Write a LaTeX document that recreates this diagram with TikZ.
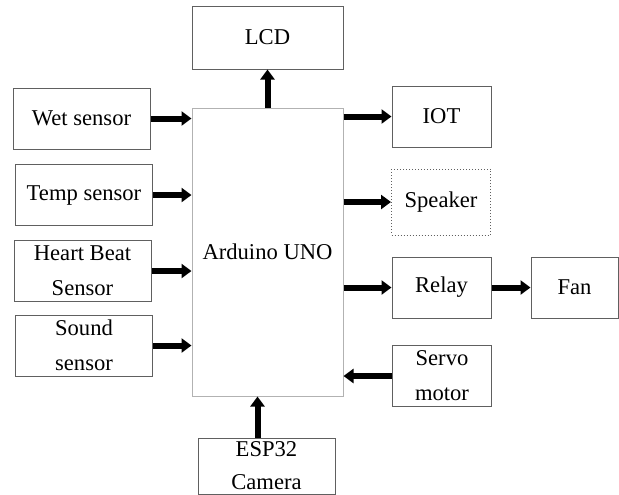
\documentclass[tikz,border=0pt]{standalone}
\usepackage{fontspec}
\setmainfont{Liberation Serif}
\usetikzlibrary{arrows.meta, positioning}

\begin{document}
\begin{tikzpicture}[
    x=0.5pt, y=-0.5pt,
    block/.style={rectangle, draw=gray!75!black, line width=0.5pt, minimum width=49.5pt,
                  minimum height=30.5pt, align=center, inner sep=0pt,
                  font=\fontsize{11.3}{17.5}\selectfont},
    sensor/.style={block, minimum width=68.5pt},
    arrow/.style={-{Triangle[length=5pt, width=7pt]}, line width=3pt, black}
]
    \useasboundingbox (0,0) rectangle (619,494);

    % inputs on the left
    \node[sensor] (wet)   at (81.5,118.5) {Wet sensor};
    \node[sensor] (temp)  at (84,195)     {Temp sensor};
    \node[sensor] (heart) at (82.5,271)   {Heart Beat\\Sensor};
    \node[sensor] (sound) at (84,345.5)   {Sound\\sensor};

    % controller
    \node[block, draw=gray!60, minimum width=75.5pt, minimum height=144pt] (uno) at (267.5,252) {Arduino UNO};
    \node[block, minimum width=75.5pt, minimum height=31.5pt] (lcd) at (267.5,37.5) {LCD};
    \node[sensor, minimum height=28pt, font=\fontsize{11.3}{16.5}\selectfont] (esp) at (266.5,466) {ESP32\\Camera};

    % outputs on the right
    \node[block] (iot)   at (441.5,116.5) {IOT};
    \node[block, densely dotted, minimum height=33pt] (spk) at (441,202) {Speaker};
    \node[block] (relay) at (441.5,287.5) {Relay};
    \node[block, minimum width=43.5pt] (fan) at (574.5,287.5) {Fan};
    \node[block] (servo) at (442,376) {Servo\\motor};

    \draw[arrow] (wet.east)   -- (wet.east -| uno.west);
    \draw[arrow] (temp.east)  -- (temp.east -| uno.west);
    \draw[arrow] (heart.east) -- (heart.east -| uno.west);
    \draw[arrow] (sound.east) -- (sound.east -| uno.west);
    \draw[arrow] (uno.north)  -- (lcd.south);
    \draw[arrow] ([xshift=-4.5pt]esp.north) -- ([xshift=-4.5pt]esp.north |- uno.south);
    \draw[arrow] (iot.west -| uno.east)   -- (iot.west);
    \draw[arrow] (spk.west -| uno.east)   -- (spk.west);
    \draw[arrow] (relay.west -| uno.east) -- (relay.west);
    \draw[arrow] (relay.east) -- (fan.west);
    \draw[arrow] (servo.west) -- (servo.west -| uno.east);
\end{tikzpicture}
\end{document}
